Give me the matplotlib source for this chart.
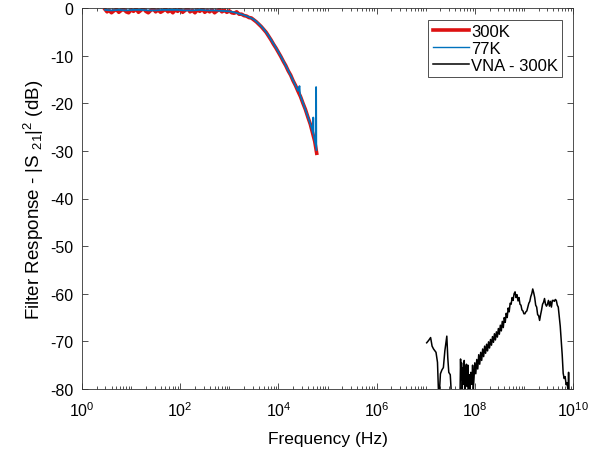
import matplotlib
matplotlib.use("Agg")
import matplotlib.pyplot as plt
import matplotlib.ticker as mticker
import numpy as np

plt.rcParams['font.family'] = ['Liberation Sans', 'DejaVu Sans']
plt.rcParams['mathtext.fontset'] = 'custom'
plt.rcParams['mathtext.rm'] = 'Liberation Sans'
plt.rcParams['mathtext.it'] = 'Liberation Sans:italic'
plt.rcParams['mathtext.bf'] = 'Liberation Sans:bold'
plt.rcParams['axes.unicode_minus'] = False

# 300K measurement (log10 frequency, dB)
log_f_300 = [0.47, 0.51, 0.55, 0.60, 0.65, 0.70, 0.75, 0.80, 0.85, 0.90, 0.95, 1.00,
             1.05, 1.10, 1.15, 1.20, 1.25, 1.30, 1.35, 1.40, 1.45, 1.50, 1.55, 1.60,
             1.65, 1.70, 1.75, 1.80, 1.85, 1.90, 1.95, 2.00, 2.05, 2.10, 2.15, 2.20,
             2.25, 2.30, 2.35, 2.40, 2.45, 2.50, 2.55, 2.60, 2.65, 2.70, 2.75, 2.80,
             2.85, 2.90, 2.95, 3.00, 3.05, 3.10, 3.15, 3.20, 3.25, 3.30, 3.35, 3.40,
             3.45, 3.50, 3.55, 3.60, 3.65, 3.70, 3.75, 3.80, 3.85, 3.90, 3.95, 4.00,
             4.05, 4.10, 4.15, 4.20, 4.25, 4.30, 4.35, 4.40, 4.45, 4.50, 4.55, 4.60,
             4.65, 4.70, 4.74, 4.78]
db_300 = [-0.3, -0.8, -0.5, -1.0, -0.6, -0.3, -0.9, -0.5, -0.2, -0.8, -1.0, -0.4,
          -0.7, -0.2, -0.9, -0.5, -0.1, -0.7, -1.0, -0.5, -0.2, -0.8, -0.4, -0.9,
          -0.6, -0.2, -0.8, -0.5, -1.0, -0.4, -0.7, -0.2, -0.9, -0.5, -0.1, -0.8,
          -0.5, -1.0, -0.4, -0.7, -0.2, -0.9, -0.5, -0.8, -0.4, -1.0, -0.6, -0.3,
          -0.8, -0.5, -0.9, -0.6, -1.0, -1.1, -0.8, -1.3, -1.3, -1.6, -1.7, -2.0,
          -2.1, -2.5, -2.9, -3.4, -3.9, -4.5, -5.1, -5.9, -6.7, -7.6, -8.4, -9.3,
          -10.2, -11.2, -12.1, -13.2, -14.1, -15.3, -16.3, -17.5, -18.6, -20.0, -21.3, -22.9,
          -24.4, -26.4, -28.0, -30.5]

# 77K measurement (log10 frequency, dB)
log_f_77 = [0.47, 0.60, 0.75, 0.90, 1.05, 1.20, 1.35, 1.50, 1.65, 1.80, 1.95, 2.10,
            2.25, 2.40, 2.55, 2.70, 2.85, 3.00, 3.10, 3.20, 3.30, 3.40, 3.50, 3.60,
            3.70, 3.80, 3.90, 4.00, 4.10, 4.20, 4.30, 4.40, 4.43, 4.44, 4.50, 4.60,
            4.68, 4.705, 4.71, 4.715, 4.74, 4.765, 4.768, 4.772, 4.775]
db_77 = [-0.4, -0.5, -0.4, -0.5, -0.4, -0.4, -0.5, -0.5, -0.4, -0.4, -0.4, -0.5,
         -0.5, -0.4, -0.5, -0.5, -0.6, -0.7, -0.9, -1.2, -1.5, -1.9, -2.4, -3.3,
         -4.4, -5.8, -7.5, -9.2, -11.1, -13.1, -15.2, -17.4, -16.4, -18.2, -19.9, -22.8,
         -25.3, -26.2, -23.0, -26.5, -27.8, -29.0, -16.6, -29.4, -29.8]

# VNA measurement at 300K (log10 frequency, dB); nan marks a gap
log_f_vna = [7.02, 7.06, 7.10, 7.13, 7.16, 7.19, 7.21, 7.24, 7.26, 7.28, 7.30, 7.33,
             7.36, 7.39, 7.43, 7.45, 7.47, 7.50, 7.52, 7.60,
             7.70, 7.71, 7.72, 7.73, 7.745, 7.76, 7.77, 7.785, 7.80, 7.81, 7.83, 7.845,
             7.86, 7.875, 7.89, 7.905, 7.92, 7.94, 7.955, 7.97, 7.985, 8.00, 8.02, 8.04,
             8.06, 8.08, 8.10, 8.12, 8.14, 8.16, 8.18, 8.20, 8.22, 8.24, 8.26, 8.28,
             8.30, 8.32, 8.34, 8.36, 8.38, 8.40, 8.42, 8.44, 8.46, 8.48, 8.50, 8.52,
             8.54, 8.56, 8.58, 8.60, 8.62, 8.64, 8.66, 8.68, 8.70, 8.72, 8.74, 8.76,
             8.78, 8.80, 8.82, 8.84, 8.86, 8.88, 8.90, 8.92, 8.94, 8.96, 8.98, 9.00,
             9.02, 9.04, 9.06, 9.08, 9.10, 9.12, 9.14, 9.16, 9.18, 9.20, 9.22, 9.24,
             9.26, 9.28, 9.30, 9.32, 9.34, 9.36, 9.38, 9.40, 9.42, 9.44, 9.46, 9.48,
             9.50, 9.52, 9.54, 9.56, 9.58, 9.60, 9.62, 9.64, 9.66, 9.68, 9.70, 9.72,
             9.74, 9.76, 9.78, 9.80, 9.82, 9.84, 9.86, 9.88, 9.90, 9.91, 9.92]
db_vna = [-70.3, -69.8, -69.2, -71.0, -71.6, -72.0, -72.3, -74.4, -80.5, -80.5, -76.8, -76.0,
          -75.5, -72.0, -68.9, -73.5, -76.5, -77.0, -80.5, np.nan,
          -80.5, -73.7, -78.0, -74.5, -80.0, -75.5, -79.0, -74.0, -80.0, -76.0, -74.8, -79.5,
          -75.0, -80.0, -77.0, -80.0, -76.5, -79.0, -75.0, -80.0, -77.5, -74.5, -76.8, -73.8,
          -75.8, -72.8, -74.8, -72.3, -74.0, -71.6, -73.2, -71.0, -72.5, -70.6, -72.0, -70.1,
          -71.4, -69.6, -70.8, -69.0, -70.2, -68.4, -69.7, -68.0, -69.1, -67.3, -68.5, -66.6,
          -67.8, -65.8, -67.1, -65.0, -66.0, -64.1, -65.0, -63.0, -63.8, -62.0, -62.2, -60.8,
          -61.4, -60.0, -59.6, -60.8, -60.2, -61.5, -60.8, -62.2, -62.4, -63.4, -63.6, -64.2,
          -64.2, -63.8, -63.6, -62.8, -62.0, -61.6, -60.6, -60.0, -59.0, -59.8, -60.8, -62.4,
          -62.8, -64.4, -64.6, -65.6, -64.4, -63.4, -62.2, -61.8, -61.0, -62.2, -62.6, -62.2,
          -61.4, -62.6, -61.6, -62.8, -61.4, -61.4, -61.6, -61.2, -61.4, -62.4, -62.8, -64.7,
          -66.8, -69.7, -72.8, -76.7, -77.8, -77.4, -79.1, -78.7, -80.5, -76.5, -80.5]

f_300 = 10.0 ** np.array(log_f_300)
f_77 = 10.0 ** np.array(log_f_77)
f_vna = 10.0 ** np.array(log_f_vna)

fig = plt.figure(figsize=(5.94, 4.52), dpi=100)
ax = fig.add_axes([82 / 594, 1 - 390 / 452, (573 - 82) / 594, (390 - 9) / 452])

ax.plot(f_300, db_300, color='#dd1111', linewidth=2.6, label='300K')
ax.plot(f_77, db_77, color='#0072BD', linewidth=1.3, label='77K')
ax.plot(f_vna, db_vna, color='black', linewidth=1.1, label='VNA - 300K')

ax.set_xscale('log')
ax.set_xlim(1, 1e10)
ax.set_ylim(-80, 0)
ax.xaxis.set_major_locator(mticker.FixedLocator([1e0, 1e2, 1e4, 1e6, 1e8, 1e10]))
ax.xaxis.set_major_formatter(mticker.LogFormatterSciNotation())
ax.xaxis.set_minor_locator(mticker.LogLocator(base=10, subs=np.arange(1, 10), numticks=100))
ax.xaxis.set_minor_formatter(mticker.NullFormatter())
ax.set_yticks(np.arange(-80, 1, 10))

axcol = '#333333'
for s in ax.spines.values():
    s.set_color(axcol)
    s.set_linewidth(0.6)
ax.tick_params(which='both', direction='in', top=True, right=True, colors=axcol,
               labelcolor='black', labelsize=11.5, width=0.6)
ax.tick_params(which='major', length=4.5, pad=6)
ax.tick_params(axis='x', which='major', pad=8)
ax.tick_params(which='minor', length=2.2)

ax.set_xlabel('Frequency (Hz)', fontsize=12.5, labelpad=9)
ax.set_ylabel(r'Filter Response - |S $_{21}$|$^2$ (dB)', fontsize=13.5, labelpad=3)

leg = ax.legend(loc='upper right', bbox_to_anchor=(562 / 594, 1 - 21 / 452),
                bbox_transform=fig.transFigure, borderaxespad=0, fancybox=False,
                framealpha=1, edgecolor=axcol, fontsize=12, handlelength=2.2,
                handletextpad=0.1, labelspacing=0.12, borderpad=0.25)
leg.get_frame().set_linewidth(0.6)
leg.get_lines()[1].set_linewidth(1.0)

fig.savefig('out.png', dpi=100)
